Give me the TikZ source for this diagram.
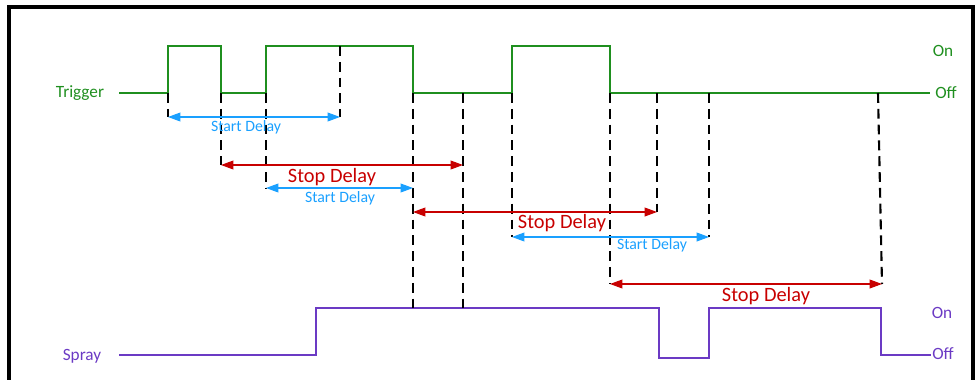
\documentclass[tikz,border=0pt]{standalone}
\usepackage{fontspec}
\setmainfont{Carlito}
\usetikzlibrary{arrows.meta,positioning}
\definecolor{TrigGreen}{HTML}{1F8F1F}
\definecolor{SprayPurple}{HTML}{6B3AC4}
\definecolor{StartBlue}{HTML}{1AA0FF}
\definecolor{StopRed}{HTML}{C80000}
\tikzset{
  trigline/.style={draw=TrigGreen,line width=1.1pt},
  sprayline/.style={draw=SprayPurple,line width=1.3pt},
  guide/.style={draw=black,line width=1.2pt,dash pattern=on 5.6pt off 3.4pt},
  startarrow/.style={{Triangle[length=7pt,width=5pt]}-{Triangle[length=7pt,width=5pt]},line width=0.6pt,draw=StartBlue},
  stoparrow/.style={{Triangle[length=7pt,width=5pt]}-{Triangle[length=7pt,width=5pt]},line width=0.6pt,draw=StopRed},
  startlabel/.style={text=StartBlue,font=\fontsize{9}{10}\selectfont,inner sep=0pt},
  stoplabel/.style={text=StopRed,font=\fontsize{11.6}{13}\selectfont,inner sep=0pt},
  siglabel/.style={font=\fontsize{9.8}{11}\selectfont,inner sep=0pt}
}

\begin{document}
\begin{tikzpicture}[x=0.02cm,y=-0.02cm]
\useasboundingbox (0,0) rectangle (980,379);
\draw[line width=2pt] (9,390) -- (9,7) -- (973,7) -- (973,390);
% signal names and levels
\node[siglabel,text=TrigGreen] (trig) at (80,93) {Trigger};
\node[siglabel,text=SprayPurple] (spray) at (82,356) {Spray};
\node[siglabel,text=TrigGreen] (tOn) at (943,51) {On};
\node[siglabel,text=TrigGreen] (tOff) at (946,93) {Off};
\node[siglabel,text=SprayPurple] (sOn) at (942,313) {On};
\node[siglabel,text=SprayPurple] (sOff) at (943,354) {Off};
\coordinate (tEnd) at (930,93);
\coordinate (sEnd) at (931,355);
% trigger waveform
\draw[trigline] (119,93) -- (168,93) -- (168,46) -- (221,46) -- (221,93) -- (266,93) -- (266,46)
  -- (413,46) -- (413,93) -- (512,93) -- (512,46) -- (610,46) -- (610,93) -- (tEnd);
% spray waveform
\draw[sprayline] (119,355) -- (316,355) -- (316,308) -- (659,308) -- (659,358) -- (709,358)
  -- (709,308) -- (881,308) -- (881,355) -- (sEnd);
% dashed guides
\coordinate (g1) at (168,93);  \coordinate (sa1) at (168,117);
\coordinate (g2) at (221,93);  \coordinate (pa1) at (221,165);
\coordinate (g3) at (266,93);  \coordinate (sa2) at (266,188);
\coordinate (g4) at (340,46);  \coordinate (sb1) at (340,117);
\coordinate (g5) at (413,93);  \coordinate (pa2) at (413,212);
\coordinate (g6) at (463,93);  \coordinate (pb1) at (463,165);
\coordinate (g7) at (512,93);  \coordinate (sa3) at (512,237);
\coordinate (g8) at (610,93);  \coordinate (pa3) at (610,284);
\coordinate (g9) at (657,93);  \coordinate (pb2) at (657,212);
\coordinate (g10) at (709,93); \coordinate (sb3) at (709,237);
\coordinate (g11) at (878,93); \coordinate (pb3) at (882,284);
\coordinate (sb2) at (413,188);
\draw[guide] (g1) -- (sa1);
\draw[guide] (g2) -- (pa1);
\draw[guide] (g3) -- (sa2);
\draw[guide] (g4) -- (sb1);
\draw[guide] (g5) -- (413,309);
\draw[guide] (g6) -- (463,309);
\draw[guide] (g7) -- (sa3);
\draw[guide] (g8) -- (pa3);
\draw[guide] (g9) -- (pb2);
\draw[guide] (g10) -- (sb3);
\draw[guide] (g11) -- (pb3);
% delays
\draw[startarrow] (sa1) -- (sb1);
\node[startlabel] (start1) at (246,127) {Start Delay};
\draw[stoparrow] (pa1) -- (pb1);
\node[stoplabel] (stop1) at (332,177) {Stop Delay};
\draw[startarrow] (sa2) -- (sb2);
\node[startlabel] (start2) at (340,198) {Start Delay};
\draw[stoparrow] (pa2) -- (pb2);
\node[stoplabel] (stop2) at (562,223) {Stop Delay};
\draw[startarrow] (sa3) -- (sb3);
\node[startlabel] (start3) at (652,245) {Start Delay};
\draw[stoparrow] (pa3) -- (pb3);
\node[stoplabel] (stop3) at (766,296) {Stop Delay};
\end{tikzpicture}
\end{document}
